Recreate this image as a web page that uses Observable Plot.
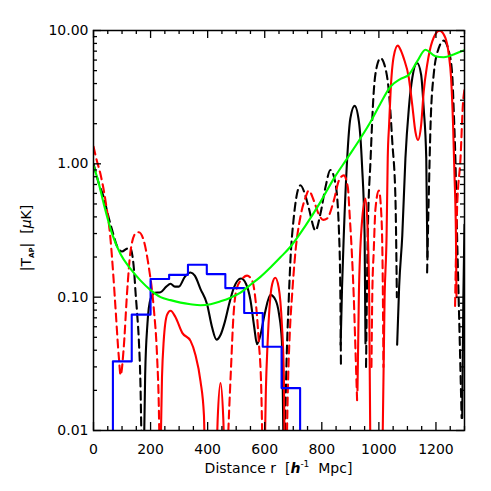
<!DOCTYPE html>
<html><head><meta charset="utf-8">
<script src="https://cdn.jsdelivr.net/npm/d3@7"></script>
<script src="https://cdn.jsdelivr.net/npm/@observablehq/plot@0.6"></script>
<style>body{margin:0;background:#fff}#chart{width:491px;height:491px}</style>
</head><body><div id="chart"></div>
<script>
// ---- tick labels ----
const xTicks = [0, 200, 400, 600, 800, 1000, 1200];
const yTicks = [0.01, 0.1, 1, 10];

// ---- series (NaN = break between segments; values < 0.01 fall off the bottom) ----
const blackSolidX = [175,181,189,200,215,235,255,270,285,299,320,340,355,375,398,415,431,445,460,476,492,517,535,550,563,573,585,600,620,638,650,660,667, NaN,
  866,871,877,889,900,915,930,941,950,953, NaN,
  1064,1071,1082,1093,1105,1117,1134,1148,1157,1166,1170, NaN,
  1292,1296,1300];
const blackSolidY = [0.004,0.026,0.063,0.097,0.108,0.109,0.12,0.126,0.12,0.12,0.142,0.153,0.145,0.115,0.0885,0.06,0.048,0.052,0.065,0.09,0.118,0.138,0.125,0.095,0.06,0.0443,0.052,0.075,0.104,0.095,0.075,0.047,0.004, NaN,
  0.044,0.12,0.29,1.10,2.19,2.72,2.07,0.97,0.29,0.045, NaN,
  0.044,0.12,0.29,1.10,2.61,4.4,5.7,4.66,2.61,1.10,0.2, NaN,
  0.0124,0.1,0.35];

const blackDashX = [0,18,36,50,65,83,100,115,128,137,143,147,153,159,165,170, NaN,
  668,676,684,690,702,712,725,740,754,778,795,813,830,848,860,865,867, NaN,
  955,961,971,982,994,1006,1023,1035,1047,1058,1063, NaN,
  1169,1175,1181,1192,1210,1227,1245,1257,1262,1268,1274,1283,1290];
const blackDashY = [1.0,0.72,0.56,0.42,0.32,0.24,0.22,0.23,0.235,0.2,0.15,0.111,0.075,0.047,0.02,0.004, NaN,
  0.004,0.03,0.094,0.188,0.40,0.58,0.69,0.6,0.47,0.316,0.42,0.67,0.9,0.71,0.316,0.107,0.031, NaN,
  0.03,0.29,1.10,3.48,5.5,6.2,5.2,3.48,1.46,0.55,0.1, NaN,
  0.153,0.6,1.95,4.66,7.4,8.4,7.0,4.66,2.61,1.1,0.29,0.05,0.0124];

const redSolidX = [233,240,246,258,270,287,311,340,357,375,387,391, NaN,
  428,435,445,455,462, NaN,
  598,604,610,617,626,637,649,660,667,671, NaN,
  925,930,940,953,961,966,971, NaN,
  1011,1020,1027,1031,1036,1041,1052,1066,1078,1087,1105,1117,1128,1137,1148,1157,1169,1187,1213,1233,1245,1253,1260,1265,1270,1272];
const redSolidY = [0.004,0.025,0.047,0.074,0.079,0.071,0.054,0.047,0.037,0.0234,0.013,0.004, NaN,
  0.004,0.012,0.0227,0.012,0.004, NaN,
  0.004,0.02,0.045,0.085,0.125,0.14,0.118,0.063,0.026,0.004, NaN,
  0.02,0.107,0.35,0.55,0.3,0.1,0.004, NaN,
  0.004,0.1,0.29,1.10,2.0,3.48,6.4,7.7,7.0,6.2,4.4,2.76,1.74,1.51,1.95,3.48,5.5,8.3,9.96,8.8,6.6,4.4,1.95,0.82,0.29,0.1];

const redDashX = [0,12,24,42,60,70,77,89,95,106,118,130,147,159,176,194,211,223,229,233, NaN,
  466,474,482,490,503,521,538,556,568,579,588,594, NaN,
  675,681,688,696,708,725,743,754,772,789,805,819,842,860,877,891,898,905,912,918,924, NaN,
  974,977,982,988,1000,1009,1014,1016, NaN,
  1267,1270,1274,1286,1295,1300];
const redDashY = [1.35,1.05,0.845,0.53,0.266,0.14,0.0835,0.035,0.026,0.042,0.111,0.223,0.30,0.307,0.266,0.167,0.0835,0.035,0.0147,0.004, NaN,
  0.004,0.012,0.03,0.07,0.118,0.137,0.145,0.133,0.094,0.047,0.0197,0.004, NaN,
  0.004,0.02,0.055,0.105,0.223,0.40,0.56,0.63,0.53,0.42,0.38,0.39,0.53,0.75,0.82,0.67,0.40,0.22,0.1,0.04,0.016, NaN,
  0.03,0.107,0.223,0.46,0.63,0.40,0.107,0.03, NaN,
  0.086,0.2,0.46,1.10,2.9,3.6];

const greenX = [0,18,36,65,95,130,165,200,235,270,305,340,375,410,445,480,515,550,585,620,655,690,743,795,842,889,935,971,1006,1041,1076,1105,1134,1163,1198,1227,1262,1295,1300];
const greenY = [0.97,0.72,0.5,0.30,0.21,0.163,0.133,0.113,0.100,0.095,0.091,0.0885,0.087,0.0885,0.093,0.099,0.108,0.124,0.142,0.167,0.199,0.239,0.344,0.516,0.775,1.10,1.55,2.07,2.85,3.8,4.34,4.66,5.86,7.18,6.4,6.3,6.6,7.06,7.1];

const blueEdges = [68,134,200,265,331,397,462,528,593,659,724];
const blueValues = [0.033,0.074,0.137,0.147,0.175,0.149,0.117,0.076,0.0425,0.0208];

// ---- layout ----
const W = 491, H = 491, ML = 93, MR = 27, MT = 30, MB = 61;
const FW = W - ML - MR, FH = H - MT - MB;
const MAJ = 8, MIN = 4;
const FLOOR = 0.001;

const rows = (xs, ys) => xs.map((x, i) => ({x, y: ys[i]}));
const blueRows = [{x: blueEdges[0], y: FLOOR}]
  .concat(blueValues.map((v, i) => ({x: blueEdges[i + 1], y: v})))
  .concat([{x: blueEdges[blueEdges.length - 1], y: FLOOR}]);

const xMinor = d3.range(0, 1301, 50).filter(v => v % 200 !== 0);
const yMinor = [0.01, 0.1, 1].flatMap(d => d3.range(2, 10).map(k => k * d));

const lineOpts = {x: "x", y: "y", strokeWidth: 2.1, curve: "monotone-x", clip: true};
const tk = {stroke: "#000", strokeWidth: 1.3};

const svg = Plot.plot({
  width: W, height: H,
  marginLeft: ML, marginRight: MR, marginTop: MT, marginBottom: MB,
  style: {fontFamily: "DejaVu Sans", fontSize: "14px", background: "#fff", color: "#000"},
  x: {domain: [0, 1300]},
  y: {type: "log", domain: [0.01, 10]},
  marks: [
    Plot.line(rows(blackDashX, blackDashY), {...lineOpts, stroke: "#000", strokeDasharray: "8,5"}),
    Plot.line(rows(blackSolidX, blackSolidY), {...lineOpts, stroke: "#000"}),
    Plot.line(rows(redDashX, redDashY), {...lineOpts, stroke: "#ff0000", strokeDasharray: "8,5"}),
    Plot.line(rows(redSolidX, redSolidY), {...lineOpts, stroke: "#ff0000"}),
    Plot.line(blueRows, {x: "x", y: "y", stroke: "#0000ff", strokeWidth: 2.1, curve: "step-before", clip: true}),
    Plot.line(rows(greenX, greenY), {...lineOpts, stroke: "#00ff00"}),
    // ticks (inward, on all four sides)
    Plot.ruleX(xTicks, {...tk, insetTop: FH - MAJ}),
    Plot.ruleX(xTicks, {...tk, insetBottom: FH - MAJ}),
    Plot.ruleX(xMinor, {...tk, insetTop: FH - MIN}),
    Plot.ruleX(xMinor, {...tk, insetBottom: FH - MIN}),
    Plot.ruleY(yTicks, {...tk, insetRight: FW - MAJ}),
    Plot.ruleY(yTicks, {...tk, insetLeft: FW - MAJ}),
    Plot.ruleY(yMinor, {...tk, insetRight: FW - MIN}),
    Plot.ruleY(yMinor, {...tk, insetLeft: FW - MIN}),
    Plot.frame({stroke: "#000", strokeWidth: 1.5}),
    Plot.axisX({ticks: xTicks, tickSize: 0, tickPadding: 14, tickFormat: d => String(d), label: null}),
    Plot.axisY({ticks: yTicks, tickSize: 0, tickPadding: 5, tickFormat: d3.format(".2f"), label: null})
  ]
});

const s = d3.select(svg);
// x title
const xt = s.append("text").attr("x", ML + FW / 2).attr("y", 473)
  .attr("text-anchor", "middle").attr("font-family", "DejaVu Sans").attr("font-size", 14)
  .attr("fill", "#000").style("white-space", "pre");
xt.append("tspan").text("Distance r  [");
xt.append("tspan").attr("font-style", "italic").attr("font-weight", "bold").text("h");
xt.append("tspan").attr("font-size", 9).attr("dy", -6).text("-1");
xt.append("tspan").attr("dy", 6).text("  Mpc]");

// y title
const yt = s.append("text").attr("transform", `translate(31,${MT + FH / 2 + 8}) rotate(-90)`)
  .attr("text-anchor", "middle").attr("font-family", "DejaVu Sans").attr("font-size", 14)
  .attr("fill", "#000").style("white-space", "pre");
yt.append("tspan").text("|T");
yt.append("tspan").attr("font-size", 7).attr("font-weight", "bold").attr("dy", 3).text("AP");
yt.append("tspan").attr("dy", -3).text("|  [");
yt.append("tspan").attr("font-style", "italic").text("μ");
yt.append("tspan").text("K]");

document.getElementById("chart").append(svg);
</script>
</body></html>
